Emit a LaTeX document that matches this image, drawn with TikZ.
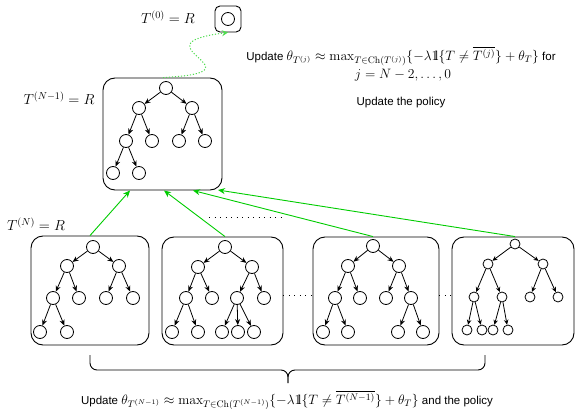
\RequirePackage{fix-cm}
\documentclass[tikz,border=0pt]{standalone}
\usepackage[no-math]{fontspec}
\usepackage{amsmath,amssymb}
\newfontfamily\lsans{Liberation Sans}
\usetikzlibrary{arrows.meta,calc}
\definecolor{upgreen}{RGB}{0,204,0}
\definecolor{lightgreen}{RGB}{80,220,80}
% indicator symbol (double-struck one)
\newcommand{\indone}{\mathrm{1\mkern-4.5mu l}}
% formulas inside the sans annotations are set a little larger
\newcommand{\fm}[1]{{\fontsize{13.6}{16}\selectfont$#1$}}

\tikzset{
  vtx/.style={circle,draw,line width=0.8pt,minimum size=13pt,inner sep=0pt},
  svtx/.style={vtx,minimum size=10pt},
  edge/.style={draw,line width=0.8pt,-{Stealth[length=6pt,width=5pt]}},
  panel/.style={draw,rounded corners=12pt,line width=0.9pt,inner sep=0pt},
  uparrow/.style={draw=upgreen,line width=0.9pt,-{Stealth[length=7pt,width=6pt]}},
  gap/.style={draw,line width=1pt,dash pattern=on 1pt off 4.5pt},
  lbl/.style={inner sep=0pt,font=\fontsize{14.5}{17}\selectfont},
  txt/.style={inner sep=0pt,font=\lsans\fontsize{11.5}{15}\selectfont,align=center}
}

\begin{document}
\begin{tikzpicture}[x=1pt,y=-1pt]
\useasboundingbox (0,0) rectangle (576,409);

% ---- root state T^(0)
\node[panel,rounded corners=5pt,minimum size=26pt] (top) at (228,19) {};
\node[vtx] (t0) at (228,19) {};
\node[lbl] (l0) at (168,17) {$T^{(0)} = R$};

% ---- tree T^(N-1)
\node[panel,minimum width=119pt,minimum height=112pt] (mb) at (162.5,134) {};
\node[lbl] (l1) at (59,98) {$T^{(N-1)} = R$};
\node[vtx] (mr) at (166,88) {};
\node[vtx] (ma) at (139,108) {};
\node[vtx] (mb1) at (192,108) {};
\node[vtx] (maa) at (126,141) {};
\node[vtx] (mab) at (152,141) {};
\node[vtx] (mba) at (179,141) {};
\node[vtx] (mbb) at (205,141) {};
\node[vtx] (maaa) at (113,173) {};
\node[vtx] (maab) at (139,173) {};
\foreach \p/\c in {mr/ma,mr/mb1,ma/maa,ma/mab,mb1/mba,mb1/mbb,maa/maaa,maa/maab}
  \draw[edge] (\p) -- (\c);

% ---- children of T^(N-1)
\node[lbl] (l2) at (36,224) {$T^{(N)} = R$};

% first child
\node[panel,minimum width=118pt,minimum height=109pt] (b1) at (90,290.5) {};
\node[vtx] (pr) at (93,247) {};
\node[vtx] (pa) at (67,266) {};
\node[vtx] (pb) at (119,266) {};
\node[vtx] (paa) at (53,298) {};
\node[vtx] (pab) at (79,298) {};
\node[vtx] (pba) at (106,298) {};
\node[vtx] (pbb) at (133,298) {};
\node[vtx] (paaa) at (40,332) {};
\node[vtx] (paab) at (67,332) {};
\foreach \p/\c in {pr/pa,pr/pb,pa/paa,pa/pab,pb/pba,pb/pbb,paa/paaa,paa/paab}
  \draw[edge] (\p) -- (\c);

% second child
\node[panel,minimum width=121pt,minimum height=108pt] (b2) at (222.5,291) {};
\node[vtx] (qr) at (225,247) {};
\node[vtx] (qa) at (198,267) {};
\node[vtx] (qb) at (252,267) {};
\node[vtx] (qaa) at (186,298) {};
\node[vtx] (qab) at (212,298) {};
\node[vtx] (qba) at (237,298) {};
\node[vtx] (qbb) at (264,298) {};
\node[vtx] (qaaa) at (172,332) {};
\node[vtx] (qaab) at (198,332) {};
\node[vtx] (qbaa) at (222,332) {};
\node[vtx] (qbab) at (238,332) {};
\node[vtx] (qbac) at (254,332) {};
\foreach \p/\c in {qr/qa,qr/qb,qa/qaa,qa/qab,qb/qba,qb/qbb,qaa/qaaa,qaa/qaab,qba/qbaa,qba/qbab,qba/qbac}
  \draw[edge] (\p) -- (\c);

% third child
\node[panel,minimum width=126pt,minimum height=108pt] (b3) at (376,291) {};
\node[vtx] (sr) at (373,246) {};
\node[vtx] (sa) at (348,266) {};
\node[vtx] (sb) at (399,266) {};
\node[vtx] (saa) at (335,298) {};
\node[vtx] (sab) at (360,298) {};
\node[vtx] (sba) at (386,298) {};
\node[vtx] (sbb) at (411,298) {};
\node[vtx] (saaa) at (323,332) {};
\node[vtx] (saab) at (348,332) {};
\node[vtx] (sbba) at (398,332) {};
\node[vtx] (sbbb) at (423,332) {};
\foreach \p/\c in {sr/sa,sr/sb,sa/saa,sa/sab,sb/sba,sb/sbb,saa/saaa,saa/saab,sbb/sbba,sbb/sbbb}
  \draw[edge] (\p) -- (\c);

% fourth child
\node[panel,minimum width=122pt,minimum height=108pt] (b4) at (513,291) {};
\node[svtx] (tr) at (515,244) {};
\node[svtx] (ta) at (488,264) {};
\node[svtx] (tb) at (543,264) {};
\node[svtx] (taa) at (474,297) {};
\node[svtx] (tab) at (502,297) {};
\node[svtx] (tba) at (530,297) {};
\node[svtx] (tbb) at (558,297) {};
\node[svtx] (taaa) at (467,330) {};
\node[svtx] (taab) at (482,330) {};
\node[svtx] (taba) at (493,330) {};
\node[svtx] (tabb) at (508,330) {};
\foreach \p/\c in {tr/ta,tr/tb,ta/taa,ta/tab,tb/tba,tb/tbb,taa/taaa,taa/taab,tab/taba,tab/tabb}
  \draw[edge,-{Stealth[length=5pt,width=4.5pt]}] (\p) -- (\c);

% ---- gaps between children
\draw[gap] ([yshift=-4pt]b2.east) -- ([yshift=-4pt]b3.west);
\draw[gap] ([yshift=-4pt]b3.east) -- ([yshift=-4pt]b4.west);
\coordinate (d1) at (209,217);
\coordinate (d2) at (283,217);
\draw[gap] (d1) -- (d2);

% ---- backups into T^(N-1)
\coordinate (e1) at (130,190.5);
\coordinate (e2) at (164,190.5);
\coordinate (e3) at (193,190.5);
\coordinate (e4) at (218,190);
\draw[uparrow] (b1.north -| 90,0) -- (e1);
\draw[uparrow] (b2.north -| qr) -- (e2);
\draw[uparrow] (b3.north -| sr) -- (e3);
\draw[uparrow] (b4.north -| tr) -- (e4);

% ---- remaining backups up to T^(0)
\coordinate (s0) at (mb.north -| 163,0);
\draw[draw=lightgreen,line width=1pt,dash pattern=on 1.2pt off 1.8pt,
      -{Stealth[length=6pt,width=6pt,fill=lightgreen]}]
  (s0) .. controls (270,72) and (130,45) .. (top.south);

% ---- annotations
\node[txt] (u1) at (401,56.5)
  {Update \fm{\theta_{T^{(j)}} \approx \max_{T\in\mathrm{Ch}(T^{(j)})}\{-\lambda\indone\{T\neq\overline{T^{(j)}}\}+\theta_T\}} for};
\node[txt,anchor=base] (u1b) at (403,79) {\fm{j=N-2,\ldots,0}};
\node[txt] (u2) at (401,103) {Update the policy};

% ---- brace under the children
\coordinate (br1) at (90,355);
\coordinate (br2) at (485,355);
\coordinate (brt) at (288,383);
\draw[line width=0.9pt,rounded corners=7pt] (br1) |- (brt |- 0,370) -- (brt);
\draw[line width=0.9pt,rounded corners=7pt] (br2) |- (brt |- 0,370) -- (brt);
\node[txt] (u3) at (287,400)
  {Update \fm{\theta_{T^{(N-1)}} \approx \max_{T\in\mathrm{Ch}(T^{(N-1)})}\{-\lambda\indone\{T\neq\overline{T^{(N-1)}}\}+\theta_T\}} and the policy};
\end{tikzpicture}
\end{document}
